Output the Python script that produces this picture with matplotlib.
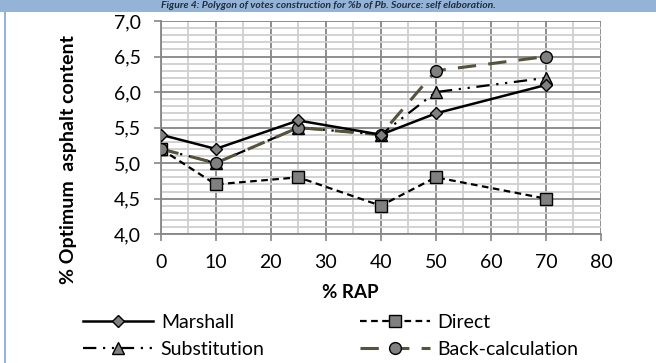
import matplotlib.pyplot as plt
from matplotlib.ticker import MultipleLocator
import matplotlib.patches as mpatches

plt.rcParams['font.family'] = ['Lato', 'DejaVu Sans']

# data
rap = [0, 10, 25, 40, 50, 70]
marshall = [5.4, 5.2, 5.6, 5.4, 5.7, 6.1]
direct = [5.2, 4.7, 4.8, 4.4, 4.8, 4.5]
substitution = [5.2, 5.0, 5.5, 5.4, 6.0, 6.2]
back_calc = [5.2, 5.0, 5.5, 5.4, 6.3, 6.5]

yticks = [4.0, 4.5, 5.0, 5.5, 6.0, 6.5, 7.0]
ytick_labels = ["4,0", "4,5", "5,0", "5,5", "6,0", "6,5", "7,0"]
xticks = [0, 10, 20, 30, 40, 50, 60, 70, 80]

fig = plt.figure(figsize=(6.56, 3.63), dpi=100)
ax = fig.add_axes([0.245, 0.355, 0.671, 0.587])

# caption band at the top
fig.patches.append(mpatches.Rectangle((0, 0.968), 1, 0.04, transform=fig.transFigure,
                                      facecolor='#95b3d7', edgecolor='none', zorder=0))
fig.patches.append(mpatches.Rectangle((0.006, 0), 0.003, 0.975, transform=fig.transFigure,
                                      facecolor='#95b3d7', edgecolor='none', zorder=0))
fig.text(0.5, 0.985, "Figure 4: Polygon of votes construction for %b of Pb. Source: self elaboration.",
         fontsize=7.5, fontweight='bold', style='italic', color='#1f2d3d', va='center', ha='center')

mk = dict(markerfacecolor='#808080', markeredgecolor='black', markeredgewidth=1.0)
l1, = ax.plot(rap, marshall, color='black', lw=1.8, ls='-', marker='D', ms=6.5, label='Marshall', zorder=5, **mk)
l2, = ax.plot(rap, direct, color='black', lw=1.6, ls=(0, (3, 2)), marker='s', ms=8.5, label='Direct', zorder=4, **mk)
l3, = ax.plot(rap, substitution, color='black', lw=1.6, ls=(0, (6, 3, 1, 3, 1, 3)), marker='^', ms=8,
              label='Substitution', zorder=3, **mk)
l4, = ax.plot(rap, back_calc, color='#57523c', lw=2.2, ls=(0, (6, 4)), marker='o', ms=8.5,
              label='Back-calculation', zorder=4, **mk)

ax.set_xlim(0, 80)
ax.set_ylim(4.0, 7.0)
ax.set_xticks(xticks)
ax.set_yticks(yticks)
ax.set_yticklabels(ytick_labels)
ax.xaxis.set_minor_locator(MultipleLocator(5))
ax.yaxis.set_minor_locator(MultipleLocator(0.1))
ax.grid(which='minor', color='#cfcfcf', lw=1.3, zorder=0)
ax.grid(which='major', color='#868686', lw=1.3, zorder=0)
ax.set_axisbelow(True)
ax.tick_params(which='minor', length=0)
ax.tick_params(which='major', length=5, width=1.2, color='#868686', labelsize=14)
ax.tick_params(axis='x', pad=9)
ax.tick_params(axis='y', pad=9)
for s in ['top', 'right']:
    ax.spines[s].set_visible(False)
for s in ['left', 'bottom']:
    ax.spines[s].set_color('#868686')
    ax.spines[s].set_linewidth(1.3)

# axis titles sit off-centre in the reference, like Excel places them
ax.set_xlabel('% RAP', fontsize=13.5, fontweight='bold', va='top')
ax.xaxis.set_label_coords(0.43, -0.235)
ax.set_ylabel('% Optimum  asphalt content', fontsize=14, fontweight='bold')
ax.yaxis.set_label_coords(-0.19, 0.35)

# row-wise order as in the reference legend
fig.legend([l1, l3, l2, l4], ['Marshall', 'Substitution', 'Direct', 'Back-calculation'],
           loc='upper left', bbox_to_anchor=(83 / 656, 1 - 314 / 363), ncol=2, frameon=False,
           fontsize=14, borderpad=0, borderaxespad=0,
           handlelength=3.6, columnspacing=4.9, labelspacing=0.5, handletextpad=0.4)

fig.savefig('out.png', dpi=100)
